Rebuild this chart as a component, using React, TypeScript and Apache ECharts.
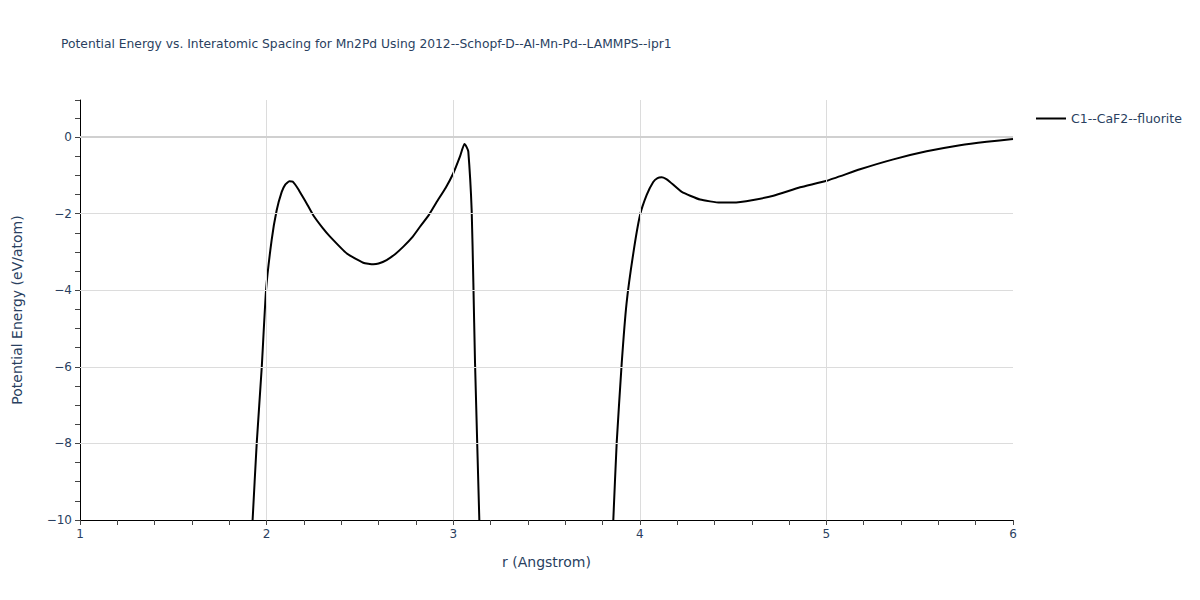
import React, { useEffect, useRef } from "react";
import * as echarts from "echarts";

const titleText =
  "Potential Energy vs. Interatomic Spacing for Mn2Pd Using 2012--Schopf-D--Al-Mn-Pd--LAMMPS--ipr1";
const seriesName = "C1--CaF2--fluorite";

// r (Angstrom)
const rValues = [
  1.9, 1.925, 1.947, 1.974, 1.997, 2.027, 2.054, 2.081, 2.1, 2.122, 2.14, 2.152, 2.17, 2.188, 2.22,
  2.25, 2.3, 2.34, 2.43, 2.518, 2.572, 2.6, 2.643, 2.69, 2.733, 2.78, 2.822, 2.87, 2.912, 2.96, 3.0,
  3.036, 3.06, 3.072, 3.081, 3.099, 3.108, 3.117, 3.14, 3.15,
  3.84, 3.858, 3.876, 3.903, 3.929, 3.965, 4.001, 4.037, 4.072, 4.095, 4.117, 4.14, 4.162, 4.225,
  4.323, 4.43, 4.501, 4.608, 4.716, 4.859, 5.001, 5.18, 5.359, 5.537, 5.716, 5.859, 6.0,
];
// Potential energy (eV/atom)
const eValues = [
  -12.3, -10.0, -8.0, -6.01, -4.0, -2.69, -1.91, -1.43, -1.24, -1.15, -1.16, -1.23, -1.36, -1.51,
  -1.78, -2.04, -2.37, -2.6, -3.04, -3.28, -3.32, -3.3, -3.21, -3.05, -2.86, -2.62, -2.34, -2.03,
  -1.69, -1.32, -0.95, -0.51, -0.18, -0.26, -0.38, -1.91, -3.8, -5.9, -10.0, -11.8,
  -12.0, -10.0, -8.0, -5.91, -4.34, -3.04, -2.04, -1.51, -1.17, -1.07, -1.05, -1.09, -1.17, -1.43,
  -1.63, -1.71, -1.71, -1.64, -1.53, -1.31, -1.14, -0.84, -0.58, -0.37, -0.21, -0.12, -0.05,
];

const xGridValues = [2, 3, 4, 5];
const yGridValues = [-8, -6, -4, -2];
const yZero = 0;

const textColor = "#2a3f5f";
const fontFamily = '"DejaVu Sans", verdana, sans-serif';

export default function App() {
  const ref = useRef<HTMLDivElement>(null);
  useEffect(() => {
    if (!ref.current) return;
    const chart = echarts.init(ref.current, undefined, { renderer: "svg" });
    const data = rValues.map((r, i) => [r, eValues[i]]);
    chart.setOption({
      animation: false,
      textStyle: { fontFamily },
      title: {
        text: titleText,
        left: 56,
        top: 33,
        textStyle: { fontSize: 12.3, fontWeight: "normal", color: textColor, fontFamily },
      },
      legend: {
        left: 1031,
        top: 107,
        itemWidth: 30,
        itemHeight: 2,
        icon: "rect",
        data: [seriesName],
        textStyle: { fontSize: 12.5, color: textColor, fontFamily },
      },
      grid: { left: 80, right: 187, top: 100, bottom: 80, containLabel: false },
      xAxis: {
        type: "value",
        min: 1,
        max: 6,
        interval: 1,
        name: "r (Angstrom)",
        nameLocation: "middle",
        nameGap: 35,
        nameTextStyle: { fontSize: 14, color: textColor, fontFamily },
        axisLine: { show: true, onZero: false, lineStyle: { color: "#000", width: 1 } },
        axisTick: { show: true, length: 5, lineStyle: { color: "#444" } },
        minorTick: { show: true, splitNumber: 5, length: 5, lineStyle: { color: "#444" } },
        axisLabel: { fontSize: 12, color: textColor, margin: 8, fontFamily },
        splitLine: { show: false },
      },
      yAxis: {
        type: "value",
        min: -10,
        max: 0.97,
        interval: 2,
        name: "Potential Energy (eV/atom)",
        nameLocation: "middle",
        nameGap: 56,
        nameTextStyle: { fontSize: 14, color: textColor, fontFamily },
        axisLine: { show: true, onZero: false, lineStyle: { color: "#000", width: 1 } },
        axisTick: { show: true, length: 5, lineStyle: { color: "#444" } },
        minorTick: { show: true, splitNumber: 4, length: 5, lineStyle: { color: "#444" } },
        axisLabel: {
          fontSize: 12,
          color: textColor,
          margin: 8,
          fontFamily,
          showMaxLabel: false,
          formatter: (v: number) => (Number.isInteger(v) ? (v < 0 ? "\u2212" + Math.abs(v) : String(v)) : ""),
        },
        splitLine: { show: false },
      },
      series: [
        {
          type: "line",
          name: "grid",
          data: [],
          silent: true,
          z: 1,
          markLine: {
            silent: true,
            symbol: "none",
            label: { show: false },
            animation: false,
            data: [
              ...xGridValues.map((v) => ({ xAxis: v, lineStyle: { color: "#dcdcdc", width: 1, type: "solid" } })),
              ...yGridValues.map((v) => ({ yAxis: v, lineStyle: { color: "#dcdcdc", width: 1, type: "solid" } })),
              { yAxis: yZero, lineStyle: { color: "#d0d0d0", width: 2, type: "solid" } },
            ],
          },
        },
        {
          type: "line",
          name: seriesName,
          data,
          z: 3,
          showSymbol: false,
          symbol: "none",
          clip: true,
          smooth: 0.15,
          lineStyle: { color: "#000", width: 2 },
          itemStyle: { color: "#000" },
        },
      ],
    });
    return () => chart.dispose();
  }, []);
  return <div ref={ref} style={{ width: 1200, height: 600, position: "absolute", left: 0, top: 0 }} />;
}
